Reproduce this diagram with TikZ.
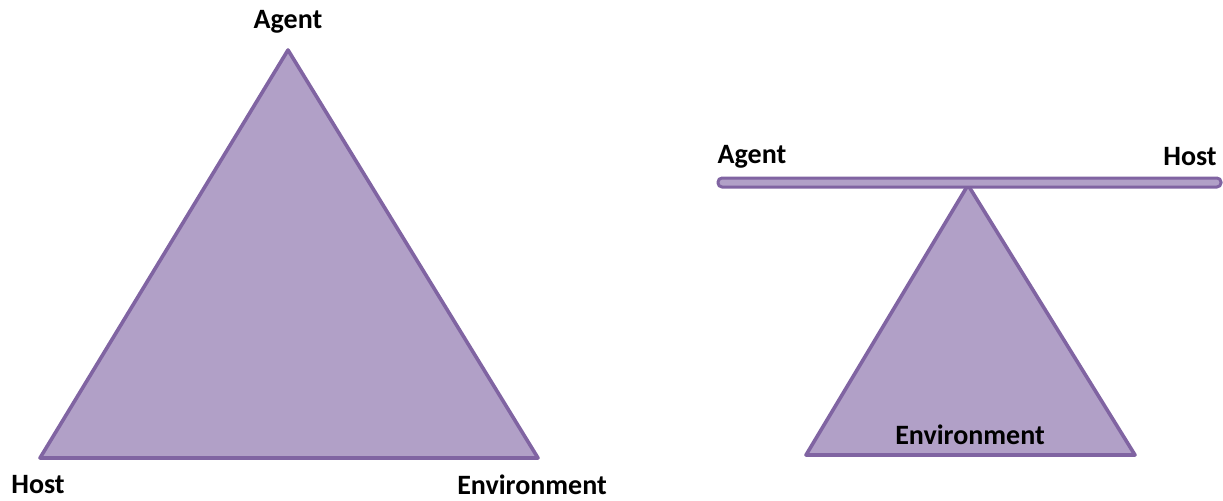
\documentclass[tikz,border=0pt]{standalone}
\usepackage{fontspec}
\setmainfont{Carlito}
\usepackage{tikz}
\usetikzlibrary{positioning}
\definecolor{triline}{HTML}{8064A2}
\definecolor{trifill}{HTML}{B1A0C7}

\begin{document}
\begin{tikzpicture}[x=0.5pt,y=-0.5pt,
  tri/.style={draw=triline, fill=trifill, line width=1.8pt, line join=round},
  lbl/.style={font=\fontsize{14}{16}\selectfont\bfseries, inner sep=0pt}]
  \useasboundingbox (0,0) rectangle (1223,500);
  % triangle model
  \coordinate (ltop) at (288,50);
  \coordinate (lleft) at (40,458);
  \coordinate (lright) at (538,458);
  \draw[tri] (ltop) -- (lleft) -- (lright) -- cycle;
  \node[lbl] (agent) at (288,22) {Agent};
  \node[lbl] (host) at (38,485) {Host};
  \node[lbl] (env) at (532,485) {Environment};
  % seesaw model
  \coordinate (rtop) at (968,185);
  \coordinate (rleft) at (806,455);
  \coordinate (rright) at (1135,455);
  \draw[tri] (rtop) -- (rleft) -- (rright) -- cycle;
  \draw[tri, rounded corners=2pt, line width=1.5pt] (718,178) rectangle (1221,187);
  \node[lbl] (agent2) at (752,157) {Agent};
  \node[lbl] (host2) at (1190,157) {Host};
  \node[lbl] (env2) at (970,435) {Environment};
\end{tikzpicture}
\end{document}
